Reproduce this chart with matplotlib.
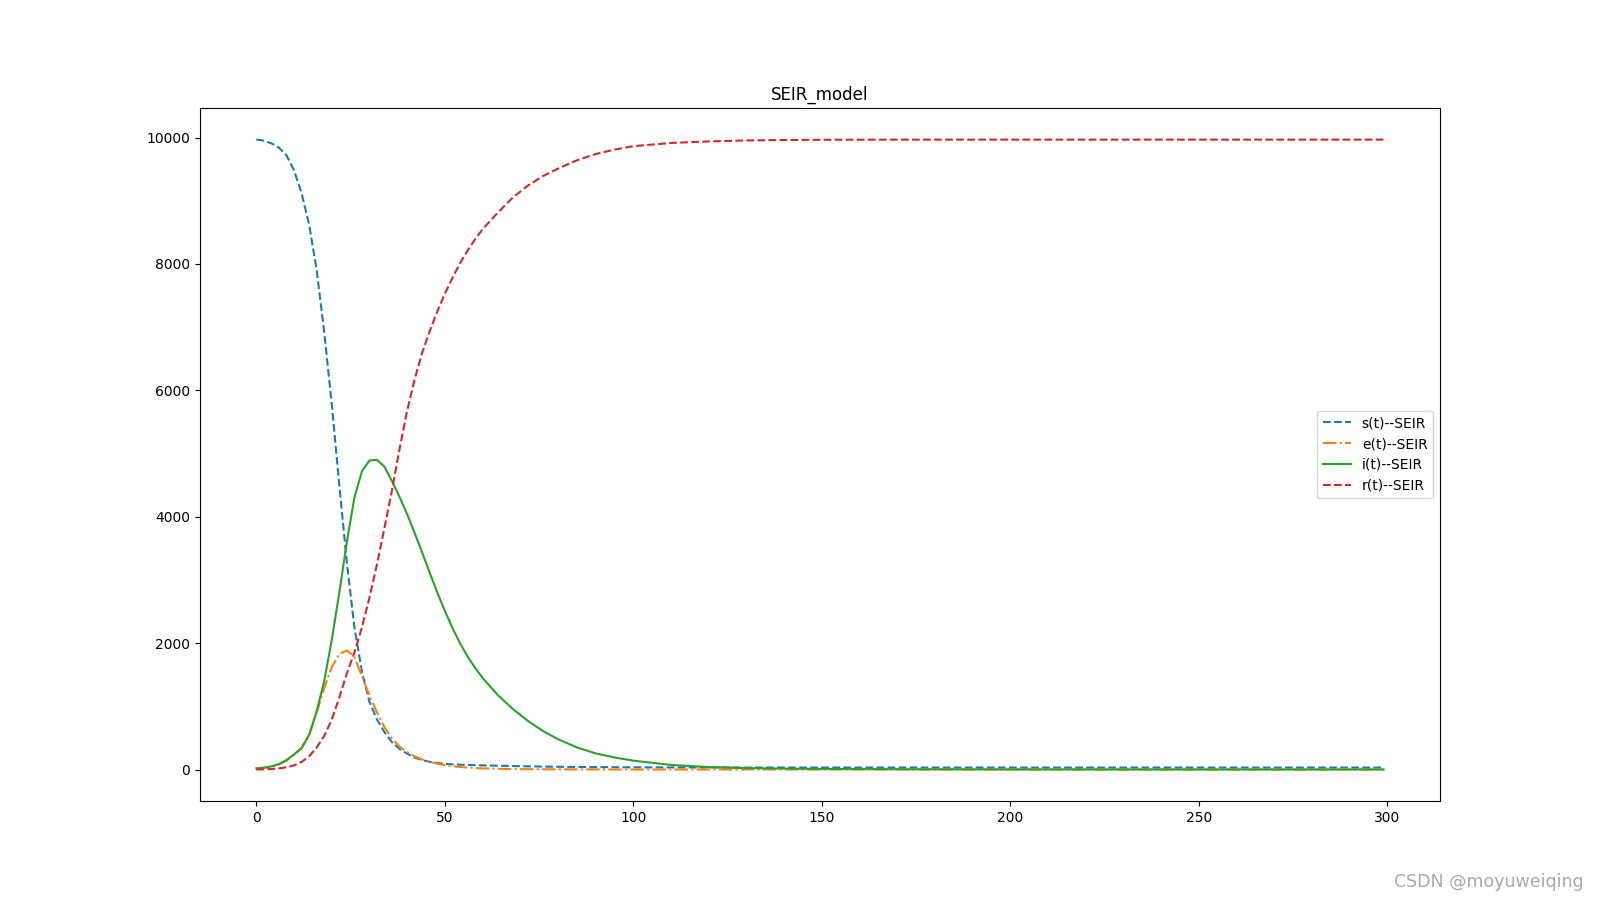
import matplotlib
matplotlib.use('Agg')
import matplotlib.pyplot as plt

t = [0, 2, 4, 6, 8, 10, 12, 14, 16, 18, 20, 22, 24, 26, 28, 30, 32, 34, 36, 38,
     40, 42, 44, 46, 48, 50, 52, 54, 56, 58, 60, 64, 68, 72, 76, 80, 85, 90, 95,
     100, 110, 120, 130, 140, 150, 175, 200, 250, 299]

s = [9970, 9950, 9910, 9840, 9720, 9480, 9120, 8620, 7900, 6920, 5780, 4500, 3280,
     2250, 1550, 1070, 790, 590, 430, 325, 250, 188, 150, 120, 102, 90, 82, 76, 72,
     68, 65, 60, 55, 50, 46, 43, 40, 38, 36, 35, 33, 32, 31, 31, 31, 31, 31, 31, 31]

e = [10, 25, 45, 80, 140, 230, 340, 540, 900, 1290, 1620, 1830, 1885, 1780, 1480,
     1170, 900, 665, 490, 361, 275, 208, 158, 120, 92, 70, 52, 40, 30, 23, 18, 11,
     7, 4, 3, 2, 1, 1, 0, 0, 0, 0, 0, 0, 0, 0, 0, 0, 0]

i = [20, 30, 50, 85, 150, 240, 340, 550, 920, 1400, 2050, 2800, 3600, 4300, 4720,
     4890, 4900, 4790, 4560, 4310, 4040, 3740, 3430, 3110, 2800, 2510, 2240, 2000,
     1790, 1610, 1450, 1180, 960, 770, 610, 480, 350, 255, 190, 140, 72, 38, 22,
     14, 9, 3, 1, 0, 0]

r = [0, 3, 8, 18, 35, 65, 120, 210, 350, 530, 790, 1140, 1520, 1850, 2250, 2720,
     3250, 3830, 4430, 5080, 5680, 6180, 6600, 6940, 7250, 7530, 7780, 8010, 8210,
     8390, 8550, 8810, 9050, 9240, 9390, 9510, 9640, 9740, 9810, 9865, 9915, 9940,
     9955, 9962, 9966, 9968, 9968, 9968, 9968]

fig = plt.figure(figsize=(16, 9), dpi=100)
plt.plot(t, s, '--', label='s(t)--SEIR')
plt.plot(t, e, '-.', label='e(t)--SEIR')
plt.plot(t, i, '-', label='i(t)--SEIR')
plt.plot(t, r, '--', label='r(t)--SEIR')
plt.title('SEIR_model')
plt.legend(loc='center right')

# watermark of the source page
fig.text(0.99, 0.02, 'CSDN @moyuweiqing', ha='right', va='center',
         fontsize=12.5, color='#a8a8a8')

plt.savefig('out.png', dpi=100)
